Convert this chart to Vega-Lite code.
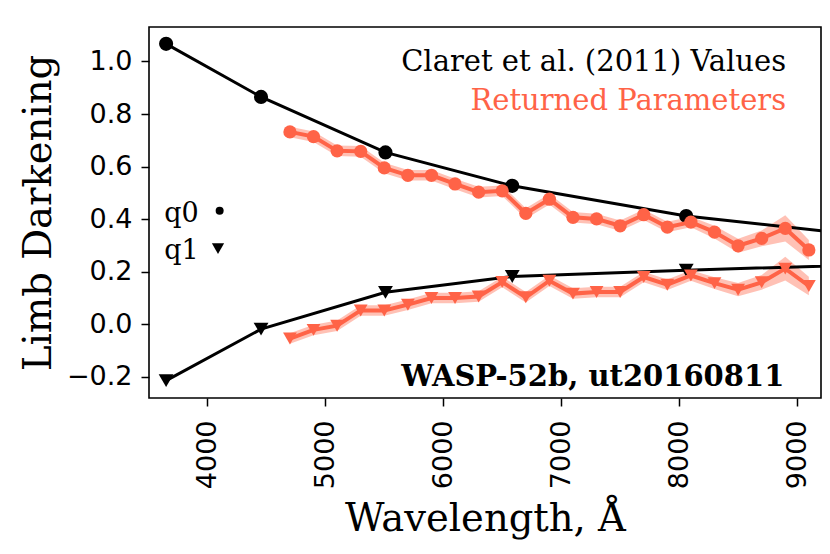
{
  "$schema": "https://vega.github.io/schema/vega-lite/v6.json",
  "width": 672,
  "height": 371,
  "autosize": {"type": "none"},
  "padding": {"left": 149, "top": 27, "right": 9, "bottom": 156},
  "background": "white",
  "config": {
    "view": {"stroke": "black", "strokeWidth": 1.6},
    "axis": {
      "domain": false,
      "grid": false,
      "ticks": true,
      "tickSize": 8,
      "tickWidth": 1.5,
      "tickColor": "black",
      "labelFont": "DejaVu Sans",
      "labelFontSize": 27,
      "labelColor": "black",
      "labelOverlap": false,
      "labelBound": false,
      "labelFlush": false,
      "titleFont": "DejaVu Serif",
      "titleFontSize": 38.5,
      "titleFontWeight": "normal",
      "titleColor": "black"
    }
  },
  "datasets": {
    "claret": [
      {"wl": 3650, "q0": 1.067, "q1": -0.214},
      {"wl": 4455, "q0": 0.865, "q1": -0.018},
      {"wl": 5510, "q0": 0.654, "q1": 0.122},
      {"wl": 6585, "q0": 0.527, "q1": 0.182},
      {"wl": 8060, "q0": 0.412, "q1": 0.206},
      {"wl": 12200, "q0": 0.21, "q1": 0.262}
    ],
    "fit": [
      {"wl": 4700, "q0": 0.732, "q0lo": 0.712, "q0hi": 0.752, "q1": -0.054, "q1lo": -0.074, "q1hi": -0.034},
      {"wl": 4900, "q0": 0.714, "q0lo": 0.694, "q0hi": 0.734, "q1": -0.021, "q1lo": -0.041, "q1hi": -0.001},
      {"wl": 5100, "q0": 0.660, "q0lo": 0.640, "q0hi": 0.680, "q1": -0.005, "q1lo": -0.025, "q1hi": 0.015},
      {"wl": 5300, "q0": 0.658, "q0lo": 0.638, "q0hi": 0.678, "q1": 0.053, "q1lo": 0.033, "q1hi": 0.073},
      {"wl": 5500, "q0": 0.595, "q0lo": 0.575, "q0hi": 0.615, "q1": 0.053, "q1lo": 0.033, "q1hi": 0.073},
      {"wl": 5700, "q0": 0.567, "q0lo": 0.547, "q0hi": 0.587, "q1": 0.075, "q1lo": 0.055, "q1hi": 0.095},
      {"wl": 5900, "q0": 0.567, "q0lo": 0.547, "q0hi": 0.587, "q1": 0.100, "q1lo": 0.080, "q1hi": 0.120},
      {"wl": 6100, "q0": 0.534, "q0lo": 0.514, "q0hi": 0.554, "q1": 0.100, "q1lo": 0.080, "q1hi": 0.120},
      {"wl": 6300, "q0": 0.503, "q0lo": 0.483, "q0hi": 0.523, "q1": 0.106, "q1lo": 0.086, "q1hi": 0.126},
      {"wl": 6500, "q0": 0.508, "q0lo": 0.488, "q0hi": 0.528, "q1": 0.161, "q1lo": 0.141, "q1hi": 0.181},
      {"wl": 6700, "q0": 0.422, "q0lo": 0.402, "q0hi": 0.442, "q1": 0.103, "q1lo": 0.083, "q1hi": 0.123},
      {"wl": 6900, "q0": 0.476, "q0lo": 0.456, "q0hi": 0.496, "q1": 0.166, "q1lo": 0.146, "q1hi": 0.186},
      {"wl": 7100, "q0": 0.407, "q0lo": 0.387, "q0hi": 0.427, "q1": 0.117, "q1lo": 0.097, "q1hi": 0.137},
      {"wl": 7300, "q0": 0.401, "q0lo": 0.381, "q0hi": 0.421, "q1": 0.123, "q1lo": 0.103, "q1hi": 0.143},
      {"wl": 7500, "q0": 0.375, "q0lo": 0.355, "q0hi": 0.395, "q1": 0.123, "q1lo": 0.103, "q1hi": 0.143},
      {"wl": 7700, "q0": 0.417, "q0lo": 0.397, "q0hi": 0.437, "q1": 0.180, "q1lo": 0.160, "q1hi": 0.200},
      {"wl": 7900, "q0": 0.370, "q0lo": 0.350, "q0hi": 0.390, "q1": 0.151, "q1lo": 0.131, "q1hi": 0.171},
      {"wl": 8100, "q0": 0.389, "q0lo": 0.369, "q0hi": 0.409, "q1": 0.186, "q1lo": 0.166, "q1hi": 0.206},
      {"wl": 8300, "q0": 0.351, "q0lo": 0.327, "q0hi": 0.375, "q1": 0.157, "q1lo": 0.135, "q1hi": 0.179},
      {"wl": 8500, "q0": 0.299, "q0lo": 0.272, "q0hi": 0.326, "q1": 0.132, "q1lo": 0.107, "q1hi": 0.157},
      {"wl": 8700, "q0": 0.327, "q0lo": 0.297, "q0hi": 0.357, "q1": 0.160, "q1lo": 0.132, "q1hi": 0.188},
      {"wl": 8900, "q0": 0.365, "q0lo": 0.315, "q0hi": 0.415, "q1": 0.212, "q1lo": 0.167, "q1hi": 0.257},
      {"wl": 9100, "q0": 0.283, "q0lo": 0.245, "q0hi": 0.321, "q1": 0.146, "q1lo": 0.111, "q1hi": 0.181}
    ],
    "one": [{}]
  },
  "layer": [
    {
      "data": {"name": "fit"},
      "mark": {"type": "area", "color": "#ff6347", "opacity": 0.4},
      "encoding": {
        "x": {
          "field": "wl", "type": "quantitative",
          "scale": {"domain": [3505, 9203], "nice": false, "zero": false},
          "axis": {
            "values": [4000, 5000, 6000, 7000, 8000, 9000],
            "format": "d",
            "labelAngle": 270,
            "labelAlign": "right",
            "labelBaseline": "middle",
            "labelPadding": 14,
            "title": "Wavelength, Å",
            "titleX": 336,
            "titleY": 132,
            "titleBaseline": "alphabetic"
          }
        },
        "y": {
          "field": "q0lo", "type": "quantitative",
          "scale": {"domain": [-0.28, 1.131], "nice": false, "zero": false},
          "axis": {
            "values": [-0.2, 0, 0.2, 0.4, 0.6, 0.8, 1.0],
            "format": ".1f",
            "labelPadding": 9,
            "title": "Limb Darkening",
            "titleAngle": 270,
            "titleX": -99,
            "titleY": 185.5,
            "titleAlign": "center",
            "titleBaseline": "alphabetic"
          }
        },
        "y2": {"field": "q0hi"}
      }
    },
    {
      "data": {"name": "fit"},
      "mark": {"type": "area", "color": "#ff6347", "opacity": 0.4},
      "encoding": {
        "x": {"field": "wl", "type": "quantitative", "scale": {"domain": [3505, 9203], "nice": false, "zero": false}},
        "y": {"field": "q1lo", "type": "quantitative", "scale": {"domain": [-0.28, 1.131], "nice": false, "zero": false}},
        "y2": {"field": "q1hi"}
      }
    },
    {
      "data": {"name": "claret"},
      "mark": {"type": "line", "color": "black", "strokeWidth": 3, "clip": true},
      "encoding": {
        "x": {"field": "wl", "type": "quantitative", "scale": {"domain": [3505, 9203], "nice": false, "zero": false}},
        "y": {"field": "q0", "type": "quantitative", "scale": {"domain": [-0.28, 1.131], "nice": false, "zero": false}}
      }
    },
    {
      "data": {"name": "claret"},
      "mark": {"type": "line", "color": "black", "strokeWidth": 3, "clip": true},
      "encoding": {
        "x": {"field": "wl", "type": "quantitative", "scale": {"domain": [3505, 9203], "nice": false, "zero": false}},
        "y": {"field": "q1", "type": "quantitative", "scale": {"domain": [-0.28, 1.131], "nice": false, "zero": false}}
      }
    },
    {
      "data": {"name": "claret"},
      "mark": {"type": "point", "shape": "circle", "filled": true, "color": "black", "opacity": 1, "size": 200, "clip": true},
      "encoding": {
        "x": {"field": "wl", "type": "quantitative", "scale": {"domain": [3505, 9203], "nice": false, "zero": false}},
        "y": {"field": "q0", "type": "quantitative", "scale": {"domain": [-0.28, 1.131], "nice": false, "zero": false}}
      }
    },
    {
      "data": {"name": "claret"},
      "mark": {"type": "point", "shape": "triangle-down", "filled": true, "color": "black", "opacity": 1, "size": 220, "clip": true},
      "encoding": {
        "x": {"field": "wl", "type": "quantitative", "scale": {"domain": [3505, 9203], "nice": false, "zero": false}},
        "y": {"field": "q1", "type": "quantitative", "scale": {"domain": [-0.28, 1.131], "nice": false, "zero": false}}
      }
    },
    {
      "data": {"name": "fit"},
      "mark": {"type": "line", "color": "#ff6347", "strokeWidth": 4},
      "encoding": {
        "x": {"field": "wl", "type": "quantitative", "scale": {"domain": [3505, 9203], "nice": false, "zero": false}},
        "y": {"field": "q0", "type": "quantitative", "scale": {"domain": [-0.28, 1.131], "nice": false, "zero": false}}
      }
    },
    {
      "data": {"name": "fit"},
      "mark": {"type": "line", "color": "#ff6347", "strokeWidth": 4},
      "encoding": {
        "x": {"field": "wl", "type": "quantitative", "scale": {"domain": [3505, 9203], "nice": false, "zero": false}},
        "y": {"field": "q1", "type": "quantitative", "scale": {"domain": [-0.28, 1.131], "nice": false, "zero": false}}
      }
    },
    {
      "data": {"name": "fit"},
      "mark": {"type": "point", "shape": "circle", "filled": true, "color": "#ff6347", "opacity": 1, "size": 175},
      "encoding": {
        "x": {"field": "wl", "type": "quantitative", "scale": {"domain": [3505, 9203], "nice": false, "zero": false}},
        "y": {"field": "q0", "type": "quantitative", "scale": {"domain": [-0.28, 1.131], "nice": false, "zero": false}}
      }
    },
    {
      "data": {"name": "fit"},
      "mark": {"type": "point", "shape": "triangle-down", "filled": true, "color": "#ff6347", "opacity": 1, "size": 190},
      "encoding": {
        "x": {"field": "wl", "type": "quantitative", "scale": {"domain": [3505, 9203], "nice": false, "zero": false}},
        "y": {"field": "q1", "type": "quantitative", "scale": {"domain": [-0.28, 1.131], "nice": false, "zero": false}}
      }
    },
    {
      "data": {"name": "one"},
      "mark": {"type": "text", "text": "Claret et al. (2011) Values", "font": "DejaVu Serif", "fontSize": 29, "color": "black", "align": "right", "baseline": "alphabetic"},
      "encoding": {
        "x": {"datum": 8907, "type": "quantitative", "scale": {"domain": [3505, 9203], "nice": false, "zero": false}},
        "y": {"datum": 0.962, "type": "quantitative", "scale": {"domain": [-0.28, 1.131], "nice": false, "zero": false}}
      }
    },
    {
      "data": {"name": "one"},
      "mark": {"type": "text", "text": "Returned Parameters", "font": "DejaVu Serif", "fontSize": 29, "color": "#ff6347", "align": "right", "baseline": "alphabetic"},
      "encoding": {
        "x": {"datum": 8907, "type": "quantitative", "scale": {"domain": [3505, 9203], "nice": false, "zero": false}},
        "y": {"datum": 0.816, "type": "quantitative", "scale": {"domain": [-0.28, 1.131], "nice": false, "zero": false}}
      }
    },
    {
      "data": {"name": "one"},
      "mark": {"type": "text", "text": "WASP-52b, ut20160811", "font": "DejaVu Serif", "fontSize": 29, "fontWeight": "bold", "color": "black", "align": "right", "baseline": "alphabetic"},
      "encoding": {
        "x": {"datum": 8892, "type": "quantitative", "scale": {"domain": [3505, 9203], "nice": false, "zero": false}},
        "y": {"datum": -0.236, "type": "quantitative", "scale": {"domain": [-0.28, 1.131], "nice": false, "zero": false}}
      }
    },
    {
      "data": {"name": "one"},
      "mark": {"type": "text", "text": "q0", "font": "DejaVu Serif", "fontSize": 27, "color": "black", "align": "left", "baseline": "alphabetic"},
      "encoding": {
        "x": {"datum": 3635, "type": "quantitative", "scale": {"domain": [3505, 9203], "nice": false, "zero": false}},
        "y": {"datum": 0.390, "type": "quantitative", "scale": {"domain": [-0.28, 1.131], "nice": false, "zero": false}}
      }
    },
    {
      "data": {"name": "one"},
      "mark": {"type": "text", "text": "q1", "font": "DejaVu Serif", "fontSize": 27, "color": "black", "align": "left", "baseline": "alphabetic"},
      "encoding": {
        "x": {"datum": 3635, "type": "quantitative", "scale": {"domain": [3505, 9203], "nice": false, "zero": false}},
        "y": {"datum": 0.250, "type": "quantitative", "scale": {"domain": [-0.28, 1.131], "nice": false, "zero": false}}
      }
    },
    {
      "data": {"name": "one"},
      "mark": {"type": "point", "shape": "circle", "filled": true, "color": "black", "opacity": 1, "size": 64},
      "encoding": {
        "x": {"datum": 4104, "type": "quantitative", "scale": {"domain": [3505, 9203], "nice": false, "zero": false}},
        "y": {"datum": 0.432, "type": "quantitative", "scale": {"domain": [-0.28, 1.131], "nice": false, "zero": false}}
      }
    },
    {
      "data": {"name": "one"},
      "mark": {"type": "point", "shape": "triangle-down", "filled": true, "color": "black", "opacity": 1, "size": 150},
      "encoding": {
        "x": {"datum": 4090, "type": "quantitative", "scale": {"domain": [3505, 9203], "nice": false, "zero": false}},
        "y": {"datum": 0.288, "type": "quantitative", "scale": {"domain": [-0.28, 1.131], "nice": false, "zero": false}}
      }
    }
  ]
}
